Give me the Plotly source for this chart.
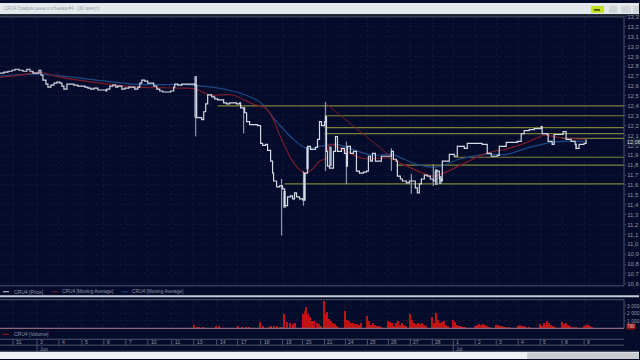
import plotly.graph_objects as go

# ---------- data ----------
price_bar = [-13,-9,-5,-1,2,6,10,14,17,20,23,26,28,30,33,35,38,41,44,47,49,51,54,57,61,65,69,72,75,78,81,85,89,93,94,97,100,103,105,109,112,116,119,122,125,127,129,132,135,138,141,144,147,150,154,158,161,162,165,169,173,177,182,
184,186,189,191,193,195,197,199,202,205,208,211,214,217,220,224,227,228,232,234,237,241,245,247,248,250,253,255,258,260,261,264,267,270,272,275,278,280,282,284,287,290,292,295,298,301,303,305,307,309,312,313,314,315,317,321,323,325,327,329,332,334,335,338,341,344,347,351,354,356,358,360,363,366,369,373,377,379,381,384,385,388,390,394,397,401,403,405,407,409,412,415,418,421,423,427,429,430,437,442,445,452,455,464,470,475,479,485,487,494,500,505,509,512,517,522,529,530,535,536,540,542,547,551,554,559,563,564,567,572,574]
price_val = [12.73,12.74,12.75,12.76,12.77,12.76,12.75,12.77,12.75,12.73,12.73,12.76,12.71,12.66,12.62,12.59,12.61,12.63,12.64,12.63,12.60,12.57,12.62,12.62,12.61,12.60,12.60,12.59,12.58,12.57,12.58,12.56,12.56,12.55,12.57,12.60,12.61,12.59,12.60,12.57,12.58,12.59,12.59,12.57,12.59,12.63,12.66,12.65,12.63,12.63,12.60,12.57,12.55,12.54,12.54,12.55,12.59,12.62,12.61,12.62,12.62,12.62,12.61,
12.28,12.28,12.26,12.34,12.42,12.51,12.51,12.49,12.47,12.46,12.46,12.43,12.42,12.43,12.43,12.42,12.43,12.38,12.33,12.24,12.21,12.21,12.20,12.20,12.02,12.00,12.01,11.95,11.84,11.72,11.64,11.58,11.59,11.56,11.39,11.48,11.49,11.46,11.52,11.48,11.46,11.45,11.72,11.99,11.96,11.96,11.98,12.06,12.24,12.20,12.24,12.29,11.94,11.79,11.77,11.94,12.09,11.94,11.94,11.97,11.92,11.79,11.99,11.92,11.94,11.74,11.72,11.73,11.74,11.89,11.84,11.92,11.84,11.84,11.89,11.89,11.89,11.94,11.86,11.84,11.69,11.66,11.64,11.62,11.64,11.64,11.57,11.52,11.61,11.66,11.70,11.69,11.66,11.64,11.74,11.66,11.64,11.84,11.91,11.89,11.99,11.97,12.02,12.02,12.01,11.92,11.89,11.90,11.99,12.03,12.03,12.04,12.12,12.15,12.16,12.17,12.19,12.12,12.11,12.04,12.01,12.11,12.11,12.14,12.06,12.04,12.01,11.97,12.01,12.02,12.06]

wick_bar = [183,231,269,291,313,334,379,399,421,564]
wick_high = [12.70,12.38,11.66,11.74,12.44,12.04,11.97,11.71,11.81,12.02]
wick_low = [12.09,12.12,11.09,11.39,11.74,11.61,11.74,11.51,11.59,11.96]

body_bar = [183,272,292,295,318,424,428]
body_high = [12.70,11.54,11.72,11.98,11.99,11.76,11.69]
body_low = [12.28,11.37,11.44,11.76,11.79,11.60,11.61]

ma_red_bar = [-13,7,27,47,87,127,167,183,197,220,240,254,270,280,292,300,307,314,317,330,350,377,384,420,429,474,497,517,532,547,574]
ma_red_val = [12.69,12.71,12.74,12.69,12.63,12.59,12.58,12.57,12.51,12.51,12.42,12.37,12.04,11.84,11.72,11.76,11.84,11.87,12.01,11.96,11.87,11.87,11.84,11.69,11.71,11.92,11.97,12.04,12.10,12.08,12.06]
trend_bar = [314,384]
trend_val = [12.42,11.84]
ma_blue_bar = [-13,27,120,180,220,247,264,280,294,307,324,340,360,379,404,424,447,474,494,514,534,550,574]
ma_blue_val = [12.70,12.72,12.62,12.61,12.55,12.44,12.24,12.07,11.97,11.99,12.01,11.96,11.90,11.91,11.81,11.78,11.86,11.91,11.91,11.97,12.02,12.04,12.04]

level_start = [205,312,312,312,550,442,384,272]
level_val = [12.40,12.30,12.18,12.12,12.07,11.88,11.80,11.61]

vol_bar = [-13,-5,3,11,19,27,35,43,55,67,79,91,103,115,127,139,151,163,175,
182,185,187,191,204,207,226,230,234,237,248,251,257,259,262,265,268,270,272,275,278,281,283,
291,293,294,296,298,300,302,305,307,309,312,313,315,317,319,321,323,325,
333,335,337,339,341,343,345,347,349,355,357,359,361,363,365,367,369,
376,378,380,382,384,386,388,390,392,394,398,400,402,404,406,408,410,412,414,
420,422,424,426,428,430,432,434,436,441,443,445,447,449,451,453,
463,465,467,469,471,473,475,477,484,486,488,490,492,494,497,506,508,510,512,514,517,
528,530,532,534,535,537,539,541,543,550,552,554,556,558,561,564,572,574,576,578,580]
vol_val = [60,70,60,80,60,90,70,60,60,50,60,50,90,60,50,60,50,60,80,
440,200,100,100,300,300,400,250,200,200,900,300,200,300,400,300,100,200,1900,900,800,600,800,
2000,2400,2900,2000,1500,1000,1000,800,600,400,3700,2000,2200,1300,1000,800,600,300,
2400,1200,1000,800,700,600,600,500,700,1700,1000,500,700,500,400,300,200,
1000,900,800,300,700,1000,500,800,500,300,2000,1100,800,600,800,600,700,500,300,
1600,800,2100,1100,800,900,1000,500,300,1150,900,500,400,350,250,150,
300,500,600,500,650,500,300,150,500,450,350,300,250,200,100,350,550,400,300,200,100,
600,400,800,500,1000,800,500,300,100,900,600,700,500,300,150,100,300,550,450,300,100]

price_ticks = [round(10.6 + 0.1 * i, 1) for i in range(28)]
vol_ticks = [1000, 2000, 3000]
vol_tick_labels = ["1 000", "2 000", "3 000"]
day_bars = [0,24,46,69,91,113,135,159,181,204,225,248,270,290,312,333,355,376,398,420,441,463,484,506,528,550,572]
day_labels = ["31","3","4","5","6","7","10","11","13","14","17","18","19","20","21","24","25","26","27","28","1","2","3","4","5","8","9"]
month_bars = [24,441]
month_labels = ["Jun","Jul"]

TITLE = "CRU4 График цены и объёма #4 - [30 минут]"
BG = "#050b2b"
GRID = "#0f1736"
BORDER = "#4e5669"
TXT = "#8f97a6"
OLIVE = "#7f8236"
FONT = "Liberation Sans"

W, H = 640, 360
def px(x): return x / W
def py(y): return 1 - y / H

fig = go.Figure()

# levels
for s, v in zip(level_start, level_val):
    fig.add_trace(go.Scatter(x=[s, 612], y=[v, v], mode="lines",
                             line=dict(color=OLIVE, width=1.2), hoverinfo="skip"))
# moving averages
fig.add_trace(go.Scatter(x=ma_blue_bar, y=ma_blue_val, mode="lines", line=dict(color="#1d4a86", width=1.2, shape="spline")))
fig.add_trace(go.Scatter(x=ma_red_bar, y=ma_red_val, mode="lines", line=dict(color="#7a1c28", width=1.2, shape="spline")))
fig.add_trace(go.Scatter(x=trend_bar, y=trend_val, mode="lines", line=dict(color="#7a1c28", width=1)))

# wicks and bodies
wx, wy = [], []
for b, h, l in zip(wick_bar, wick_high, wick_low):
    wx += [b, b, None]; wy += [h, l, None]
fig.add_trace(go.Scatter(x=wx, y=wy, mode="lines", line=dict(color="#8e97ab", width=1.2)))
bx, by = [], []
for b, h, l in zip(body_bar, body_high, body_low):
    bx += [b, b, None]; by += [h, l, None]
fig.add_trace(go.Scatter(x=bx, y=by, mode="lines", line=dict(color="#aab3c6", width=2.6)))

# price
fig.add_trace(go.Scatter(x=price_bar, y=price_val, mode="lines", line=dict(color="#d5dae4", width=1.2, shape="hv")))

# volume
fig.add_trace(go.Bar(x=vol_bar, y=vol_val, width=1.5, marker=dict(color="#c01414", line=dict(width=0)),
                     xaxis="x2", yaxis="y2"))

shapes = []
def rect(x0, y0, x1, y1, fill):
    shapes.append(dict(type="rect", xref="paper", yref="paper", x0=px(x0), x1=px(x1), y0=py(y0), y1=py(y1),
                       fillcolor=fill, line=dict(width=0), layer="below"))
def hline(x0, x1, y, color, width=1):
    shapes.append(dict(type="line", xref="paper", yref="paper", x0=px(x0), x1=px(x1), y0=py(y), y1=py(y),
                       line=dict(color=color, width=width), layer="above"))
def vline(x, y0, y1, color, width=1):
    shapes.append(dict(type="line", xref="paper", yref="paper", x0=px(x), x1=px(x), y0=py(y0), y1=py(y1),
                       line=dict(color=color, width=width), layer="above"))

# window chrome
rect(0, 0, 640, 11.5, "#e3e8ec")
rect(0, 11.5, 640, 13.5, "#1a2230")
rect(0, 352.5, 640, 360, "#eef0f2")
rect(528, 353.5, 640, 360, "#c9cccf")
rect(592, 3, 605, 10, "#c4e024")
rect(610, 3, 618, 10, "#cfd4d8")
rect(622, 3, 632, 10, "#cfd4d8")
rect(634, 3, 640, 10, "#cfd4d8")
hline(595, 601, 7, "#33400a", 1.5)

# panel frames
hline(0, 625, 14, BORDER)
vline(625, 14, 286, BORDER)
hline(0, 625, 286, BORDER)
hline(0, 640, 296.5, "#c9ced6", 2)
hline(0, 625, 300, BORDER)
vline(625, 300, 329, BORDER)
hline(0, 625, 329, "#8a6a78", 1.2)
hline(0, 625, 340, BORDER)
hline(0, 625, 346, BORDER)
hline(0, 640, 352, "#2a3246")

# legend samples
for x0, c in [(3, "#d5dae4"), (52, "#7a1c28"), (122, "#1d4a86")]:
    hline(x0, x0 + 6, 292, c, 1)
hline(3, 9, 335, "#c01414", 1)

ann = []
def text(x, y, s, size=5, color=TXT, anchor="left", bg=None):
    ann.append(dict(xref="paper", yref="paper", x=px(x), y=py(y), text=s, showarrow=False,
                    xanchor=anchor, yanchor="middle", font=dict(size=size, color=color, family=FONT),
                    bgcolor=bg, borderpad=0))

text(3, 6, TITLE, 4.6, "#9aa0a8")
text(13, 292, "CRU4 [Price]")
text(61, 292, "CRU4 [Moving Average]", 4.8)
text(131, 292, "CRU4 [Moving Average]", 4.8)
text(13, 335, "CRU4 [Volume]")
text(626.5, 141, "12,06", 5.5, "#d8dde4", bg="#1b2438")
text(627, 327, "790", 4.6, "#f0c0c0", bg="#8c1414")

X0 = 13
for b, l in zip(day_bars, day_labels):
    x = b + X0
    vline(x, 340, 346, BORDER)
    text(x + 2, 343, l, 5)
for b, l in zip(month_bars, month_labels):
    x = b + X0
    vline(x, 346, 352, BORDER)
    text(x + 2, 349.5, l, 5)

xax = dict(range=[-13, 612], domain=[0, 625 / 640], tickvals=day_bars, showticklabels=False,
           showgrid=True, gridcolor=GRID, gridwidth=1, griddash="dot", zeroline=False, showline=False, ticks="")
fig.update_layout(
    width=W, height=H, autosize=False, margin=dict(l=0, r=0, t=0, b=0),
    paper_bgcolor=BG, plot_bgcolor=BG, showlegend=False, bargap=0, separators=", ",
    font=dict(family=FONT, size=6, color=TXT),
    xaxis=dict(**xax, anchor="y"),
    xaxis2=dict(**xax, anchor="y2"),
    yaxis=dict(domain=[py(286), py(14)], range=[10.58, 13.30], side="right", anchor="x",
               tickvals=price_ticks, tickformat=".1f", showgrid=True, gridcolor=GRID, griddash="dot",
               zeroline=False, showline=False, ticks="outside", ticklen=1, tickcolor=BORDER,
               tickfont=dict(size=6, color=TXT, family=FONT)),
    yaxis2=dict(domain=[py(329), py(300)], range=[0, 3816], side="right", anchor="x2",
                tickvals=vol_ticks, ticktext=vol_tick_labels, showgrid=True, gridcolor=GRID, griddash="dot",
                zeroline=False, showline=False, ticks="outside", ticklen=1, tickcolor=BORDER,
                tickfont=dict(size=5, color=TXT, family=FONT)),
    shapes=shapes, annotations=ann,
)
fig.write_html("out.html", config=dict(displayModeBar=False),
               post_script="document.body.style.margin='0';document.documentElement.style.overflow='hidden';")
